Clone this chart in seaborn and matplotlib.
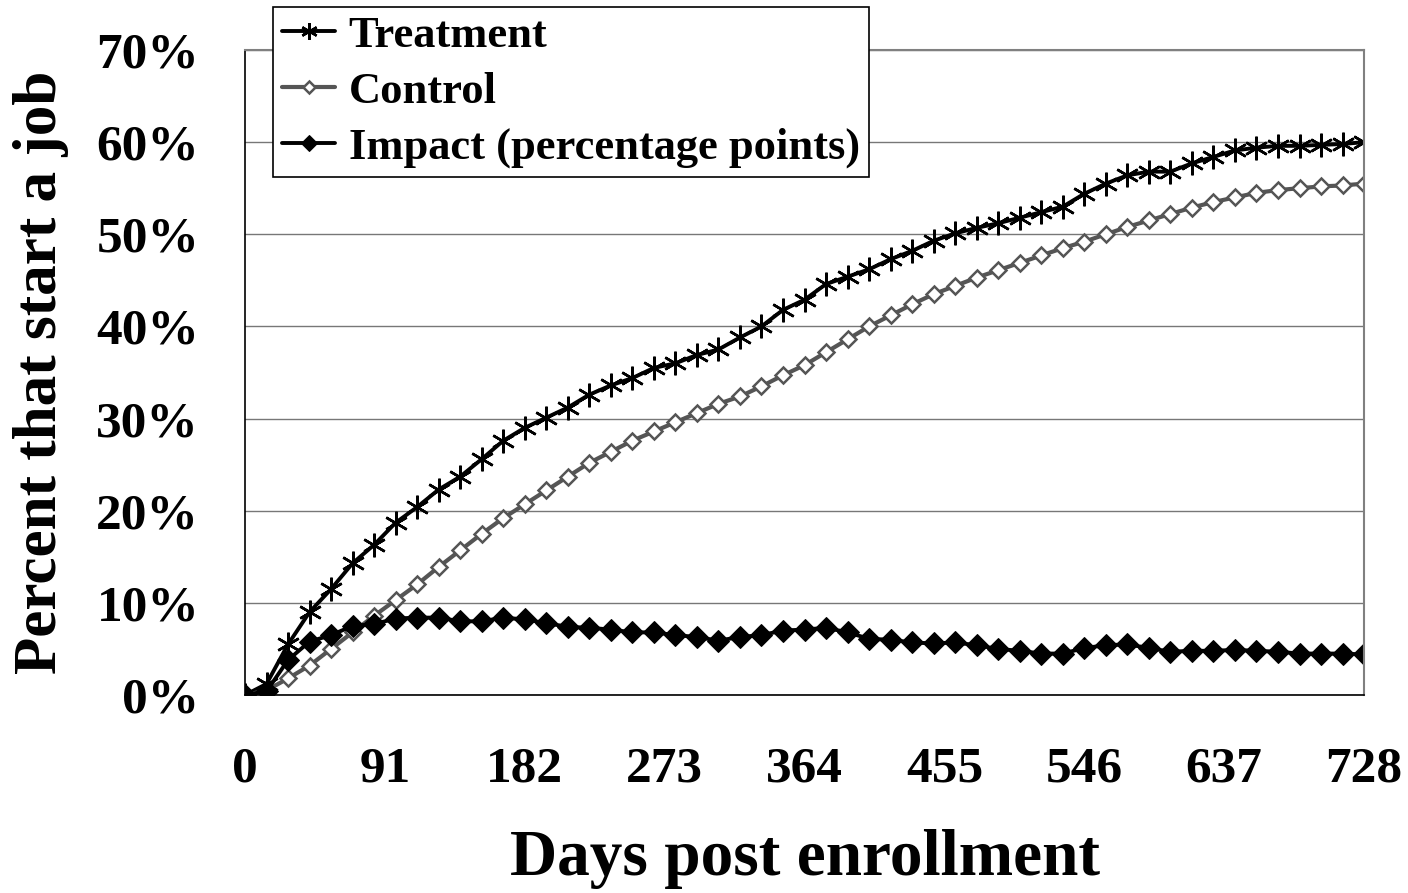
import numpy as np
import pandas as pd
import matplotlib
matplotlib.use("Agg")
import matplotlib.pyplot as plt
import seaborn as sns
from matplotlib.ticker import FuncFormatter

days = list(range(0, 729, 14))
treatment = [0.0, 1.2, 5.5, 9.0, 11.5, 14.3, 16.3, 18.7, 20.4, 22.3, 23.7, 25.6, 27.6, 29.0,
             30.1, 31.2, 32.6, 33.6, 34.4, 35.5, 36.0, 36.9, 37.5, 38.8, 40.0, 41.8, 42.9,
             44.6, 45.4, 46.2, 47.3, 48.2, 49.3, 50.1, 50.7, 51.2, 51.8, 52.4, 53.0, 54.4,
             55.5, 56.4, 56.8, 56.8, 57.7, 58.4, 59.1, 59.4, 59.6, 59.6, 59.7, 59.8, 60.0]
control = [0.0, 0.5, 1.8, 3.2, 5.0, 6.8, 8.6, 10.3, 12.0, 13.9, 15.7, 17.5, 19.2, 20.7,
           22.2, 23.7, 25.2, 26.4, 27.6, 28.6, 29.6, 30.6, 31.6, 32.4, 33.5, 34.7, 35.8,
           37.2, 38.6, 40.0, 41.2, 42.4, 43.5, 44.4, 45.3, 46.1, 46.9, 47.7, 48.5, 49.2,
           50.0, 50.8, 51.5, 52.2, 52.9, 53.5, 54.0, 54.5, 54.8, 55.0, 55.2, 55.3, 55.5]
impact = [0.0, 0.4, 3.8, 5.8, 6.5, 7.5, 7.7, 8.3, 8.4, 8.4, 8.0, 8.0, 8.4, 8.2,
          7.8, 7.4, 7.3, 7.1, 6.8, 6.8, 6.5, 6.3, 5.9, 6.3, 6.5, 7.0, 7.1,
          7.3, 6.8, 6.1, 6.0, 5.7, 5.6, 5.7, 5.4, 5.0, 4.8, 4.5, 4.5, 5.1,
          5.4, 5.5, 5.1, 4.7, 4.8, 4.8, 4.9, 4.8, 4.7, 4.5, 4.5, 4.5, 4.4]
series_names = ["Treatment", "Control", "Impact (percentage points)"]
x_ticks = [0, 91, 182, 273, 364, 455, 546, 637, 728]
y_ticks = [0, 10, 20, 30, 40, 50, 60, 70]

sns.set_style("white")
plt.rcParams['font.family'] = ['Liberation Serif', 'DejaVu Serif']
plt.rcParams['font.weight'] = 'bold'
for k in ["text.color", "axes.labelcolor", "xtick.color", "ytick.color"]:
    plt.rcParams[k] = "black"

fig = plt.figure(figsize=(14.08, 8.93), dpi=100)
ax = fig.add_axes([0.174, 0.2217, 0.7948, 0.7223])

sns.lineplot(x=days, y=treatment, ax=ax, color="black", marker=(6, 2, 0),
             markersize=17, markeredgewidth=1.8, markeredgecolor="black",
             label=series_names[0], linewidth=2.8)
sns.lineplot(x=days, y=control, ax=ax, color="#555555", marker="D",
             markersize=8.5, markerfacecolor="white", markeredgecolor="#555555",
             markeredgewidth=1.8, label=series_names[1], linewidth=3.0)
sns.lineplot(x=days, y=impact, ax=ax, color="black", marker="D",
             markersize=11, markerfacecolor="black", markeredgecolor="black",
             label=series_names[2], linewidth=2.8)

ax.set_xlim(0, 728)
ax.set_ylim(0, 70)
ax.set_xticks(x_ticks)
ax.set_yticks(y_ticks)
ax.yaxis.set_major_formatter(FuncFormatter(lambda v, p: f"{int(v)}%"))
ax.tick_params(axis="both", labelsize=37, direction="out", length=11, width=1.0,
               color="black")
ax.tick_params(axis="x", pad=26)
ax.tick_params(axis="y", pad=22)
for lbl in ax.get_xticklabels() + ax.get_yticklabels():
    lbl.set_fontweight("bold")

ax.grid(axis="y", color="#777777", linewidth=1.0)
ax.grid(axis="x", visible=False)
for side in ["left", "bottom"]:
    ax.spines[side].set_color("black")
    ax.spines[side].set_linewidth(1.2)
for side in ["top", "right"]:
    ax.spines[side].set_visible(True)
    ax.spines[side].set_color("#808080")
    ax.spines[side].set_linewidth(1.5)

ax.set_xlabel("Days post enrollment", fontsize=47, fontweight="bold", labelpad=26)
ax.set_ylabel("Percent that start a job", fontsize=44, fontweight="bold", labelpad=20)

leg = ax.legend(loc="upper left", bbox_to_anchor=(273 / 1408, 1 - 7 / 893),
                bbox_transform=fig.transFigure, prop={"size": 32, "weight": "bold"},
                frameon=True, fancybox=False, framealpha=1, edgecolor="black",
                handlelength=1.2, handletextpad=0.3, borderpad=0.2, labelspacing=0.35,
                borderaxespad=0, markerscale=0.7)
leg.get_frame().set_linewidth(1.2)
leg.set_zorder(10)

fig.savefig("out.png", dpi=100)
